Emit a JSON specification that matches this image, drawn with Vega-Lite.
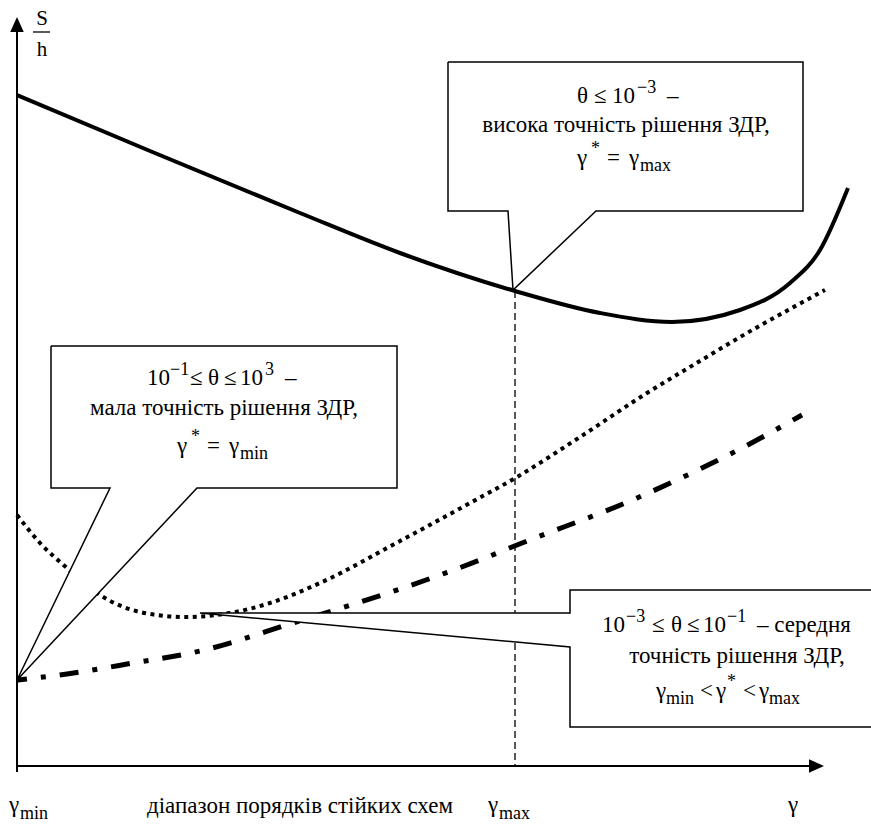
{
  "$schema": "https://vega.github.io/schema/vega-lite/v6.json",
  "width": 871,
  "height": 824,
  "autosize": {"type": "none"},
  "padding": 0,
  "config": {"view": {"stroke": null}},
  "datasets": {
    "solid": [
      {"x": 17, "y": 95}, {"x": 150, "y": 151}, {"x": 300, "y": 213}, {"x": 400, "y": 253},
      {"x": 515, "y": 291}, {"x": 600, "y": 313}, {"x": 672, "y": 322}, {"x": 740, "y": 310},
      {"x": 790, "y": 283}, {"x": 820, "y": 250}, {"x": 848, "y": 188}
    ],
    "dotted": [
      {"x": 17, "y": 515}, {"x": 40, "y": 543}, {"x": 67, "y": 568}, {"x": 100, "y": 595},
      {"x": 140, "y": 612}, {"x": 185, "y": 617}, {"x": 230, "y": 613}, {"x": 270, "y": 603},
      {"x": 320, "y": 583}, {"x": 400, "y": 541}, {"x": 470, "y": 503}, {"x": 517, "y": 477},
      {"x": 580, "y": 437}, {"x": 647, "y": 393}, {"x": 700, "y": 361}, {"x": 747, "y": 333},
      {"x": 790, "y": 309}, {"x": 825, "y": 290}
    ],
    "dashdot": [
      {"x": 17, "y": 680}, {"x": 67, "y": 674}, {"x": 133, "y": 663}, {"x": 200, "y": 651},
      {"x": 293, "y": 623}, {"x": 400, "y": 589}, {"x": 480, "y": 560}, {"x": 517, "y": 545},
      {"x": 637, "y": 498}, {"x": 757, "y": 440}, {"x": 802, "y": 415}
    ],
    "boxes": [
      {"id": "a", "i": 0, "x": 448, "y": 62}, {"id": "a", "i": 1, "x": 803, "y": 62},
      {"id": "a", "i": 2, "x": 803, "y": 211}, {"id": "a", "i": 3, "x": 596, "y": 211},
      {"id": "a", "i": 4, "x": 513, "y": 290}, {"id": "a", "i": 5, "x": 508, "y": 211},
      {"id": "a", "i": 6, "x": 448, "y": 211}, {"id": "a", "i": 7, "x": 448, "y": 62},
      {"id": "b", "i": 0, "x": 51, "y": 346}, {"id": "b", "i": 1, "x": 397, "y": 346},
      {"id": "b", "i": 2, "x": 397, "y": 488}, {"id": "b", "i": 3, "x": 197, "y": 488},
      {"id": "b", "i": 4, "x": 17, "y": 680}, {"id": "b", "i": 5, "x": 110, "y": 488},
      {"id": "b", "i": 6, "x": 51, "y": 488}, {"id": "b", "i": 7, "x": 51, "y": 346},
      {"id": "c", "i": 0, "x": 880, "y": 590}, {"id": "c", "i": 1, "x": 570, "y": 590},
      {"id": "c", "i": 2, "x": 570, "y": 613}, {"id": "c", "i": 3, "x": 200, "y": 613},
      {"id": "c", "i": 4, "x": 570, "y": 647}, {"id": "c", "i": 5, "x": 570, "y": 727},
      {"id": "c", "i": 6, "x": 880, "y": 727}
    ],
    "axes": [
      {"x": 17, "y": 24, "x2": 17, "y2": 772},
      {"x": 17, "y": 766, "x2": 816, "y2": 766}
    ],
    "guide": [{"x": 515, "y": 291, "x2": 515, "y2": 766}],
    "frac": [{"x": 33, "y": 32, "x2": 50, "y2": 32}],
    "centered": [
      {"x": 626, "y": 132, "t": "висока точність рішення ЗДР,"},
      {"x": 224, "y": 415, "t": "мала точність рішення ЗДР,"},
      {"x": 737, "y": 663, "t": "точність рішення ЗДР,"},
      {"x": 300, "y": 813, "t": "діапазон порядків стійких схем"}
    ],
    "sh": [{"x": 42, "y": 25, "t": "S"}, {"x": 42, "y": 56, "t": "h"}],
    "mainParts": [
      {"x": 577, "y": 103, "t": "θ"}, {"x": 594, "y": 103, "t": "≤"}, {"x": 612, "y": 103, "t": "10"},
      {"x": 667, "y": 103, "t": "–"},
      {"x": 577, "y": 165, "t": "γ"}, {"x": 607, "y": 165, "t": "="}, {"x": 629, "y": 165, "t": "γ"},
      {"x": 147, "y": 385, "t": "10"}, {"x": 190, "y": 385, "t": "≤"}, {"x": 208, "y": 385, "t": "θ"},
      {"x": 224, "y": 385, "t": "≤"}, {"x": 240, "y": 385, "t": "10"}, {"x": 285, "y": 385, "t": "–"},
      {"x": 177, "y": 453, "t": "γ"}, {"x": 207, "y": 453, "t": "="}, {"x": 229, "y": 453, "t": "γ"},
      {"x": 602, "y": 632, "t": "10"}, {"x": 652, "y": 632, "t": "≤"}, {"x": 671, "y": 632, "t": "θ"},
      {"x": 687, "y": 632, "t": "≤"}, {"x": 703, "y": 632, "t": "10"},
      {"x": 757, "y": 632, "t": "– середня"},
      {"x": 656, "y": 698, "t": "γ"}, {"x": 700, "y": 698, "t": "<"}, {"x": 716, "y": 698, "t": "γ"},
      {"x": 743, "y": 698, "t": "<"}, {"x": 759, "y": 698, "t": "γ"},
      {"x": 9, "y": 812, "t": "γ"}, {"x": 488, "y": 812, "t": "γ"}, {"x": 788, "y": 812, "t": "γ"}
    ],
    "scripts": [
      {"x": 637, "y": 93, "t": "−3"}, {"x": 591, "y": 154, "t": "*"},
      {"x": 640, "y": 171, "t": "max"},
      {"x": 170, "y": 375, "t": "−1"}, {"x": 265, "y": 375, "t": "3"},
      {"x": 191, "y": 442, "t": "*"}, {"x": 240, "y": 459, "t": "min"},
      {"x": 626, "y": 622, "t": "−3"}, {"x": 727, "y": 622, "t": "−1"},
      {"x": 666, "y": 704, "t": "min"}, {"x": 727, "y": 687, "t": "*"},
      {"x": 769, "y": 704, "t": "max"},
      {"x": 20, "y": 819, "t": "min"}, {"x": 499, "y": 819, "t": "max"}
    ],
    "arrowUp": [{"x": 17, "y": 24.5}],
    "arrowRight": [{"x": 816.5, "y": 766}]
  },
  "encoding": {
    "x": {"field": "x", "type": "quantitative", "axis": null, "scale": {"domain": [0, 871], "nice": false, "zero": false}},
    "y": {"field": "y", "type": "quantitative", "axis": null, "scale": {"domain": [0, 824], "nice": false, "zero": false, "reverse": true}}
  },
  "layer": [
    {
      "data": {"name": "guide"},
      "mark": {"type": "rule", "color": "black", "strokeWidth": 1.3, "strokeDash": [7, 4]},
      "encoding": {"x2": {"field": "x2"}, "y2": {"field": "y2"}}
    },
    {
      "data": {"name": "solid"},
      "mark": {"type": "line", "color": "black", "strokeWidth": 4, "interpolate": "monotone"},
      "encoding": {}
    },
    {
      "data": {"name": "dotted"},
      "mark": {"type": "line", "color": "black", "strokeWidth": 4, "strokeDash": [4, 4.5], "strokeCap": "butt", "interpolate": "monotone"},
      "encoding": {}
    },
    {
      "data": {"name": "dashdot"},
      "mark": {"type": "line", "color": "black", "strokeWidth": 5, "strokeDash": [19, 14, 5, 14], "strokeDashOffset": 9, "strokeCap": "butt", "interpolate": "monotone"},
      "encoding": {}
    },
    {
      "data": {"name": "boxes"},
      "mark": {"type": "line", "stroke": "black", "fill": "white", "strokeWidth": 1.5, "interpolate": "linear"},
      "encoding": {"detail": {"field": "id"}, "order": {"field": "i", "type": "quantitative"}}
    },
    {
      "data": {"name": "axes"},
      "mark": {"type": "rule", "color": "black", "strokeWidth": 2},
      "encoding": {"x2": {"field": "x2"}, "y2": {"field": "y2"}}
    },
    {
      "data": {"name": "frac"},
      "mark": {"type": "rule", "color": "black", "strokeWidth": 1.3},
      "encoding": {"x2": {"field": "x2"}, "y2": {"field": "y2"}}
    },
    {
      "data": {"name": "arrowUp"},
      "mark": {"type": "point", "shape": "M0,-1L0.9,1L-0.9,1Z", "filled": true, "color": "black", "size": 225, "opacity": 1},
      "encoding": {}
    },
    {
      "data": {"name": "arrowRight"},
      "mark": {"type": "point", "shape": "M1,0L-1,0.9L-1,-0.9Z", "filled": true, "color": "black", "size": 225, "opacity": 1},
      "encoding": {}
    },
    {
      "data": {"name": "centered"},
      "mark": {"type": "text", "font": "Liberation Serif", "color": "black", "fontSize": 23, "align": "center", "baseline": "alphabetic"},
      "encoding": {"text": {"field": "t"}}
    },
    {
      "data": {"name": "sh"},
      "mark": {"type": "text", "font": "Liberation Serif", "color": "black", "fontSize": 21, "align": "center", "baseline": "alphabetic"},
      "encoding": {"text": {"field": "t"}}
    },
    {
      "data": {"name": "mainParts"},
      "mark": {"type": "text", "font": "Liberation Serif", "color": "black", "fontSize": 23, "align": "left", "baseline": "alphabetic"},
      "encoding": {"text": {"field": "t"}}
    },
    {
      "data": {"name": "scripts"},
      "mark": {"type": "text", "font": "Liberation Serif", "color": "black", "fontSize": 18, "align": "left", "baseline": "alphabetic"},
      "encoding": {"text": {"field": "t"}}
    }
  ]
}
